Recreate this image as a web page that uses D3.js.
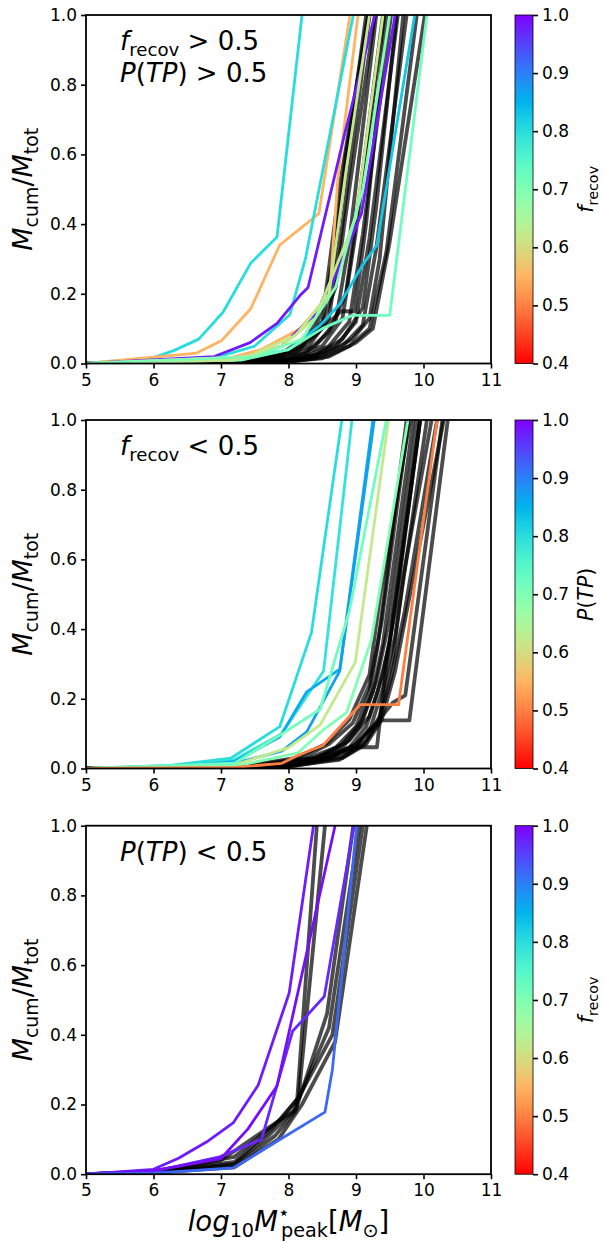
<!DOCTYPE html>
<html>
<head>
<meta charset="utf-8">
<script src="https://cdn.jsdelivr.net/npm/d3@7/dist/d3.min.js"></script>
<style>
  body { margin: 0; background: #fff; }
  text { font-family: "DejaVu Sans", sans-serif; fill: #000; }
</style>
</head>
<body>
<svg id="fig" width="605" height="1243"></svg>
<script>
// ---- data (x = log10 M*peak, y = Mcum/Mtot) ----
var xTicks = [5, 6, 7, 8, 9, 10, 11];
var yTicks = [0, 0.2, 0.4, 0.6, 0.8, 1.0];
var cbTicks = [0.4, 0.5, 0.6, 0.7, 0.8, 0.9, 1.0];

// panel 1: f_recov > 0.5 & P(TP) > 0.5
var p1Black = [
  [[5,0],[7.2,0.005],[7.8,0.02],[8.2,0.05],[8.5,0.12],[8.7,0.35],[9.15,1]],
  [[5,0],[7.3,0.004],[7.9,0.02],[8.3,0.05],[8.6,0.13],[8.8,0.4],[9.2,1]],
  [[5,0],[7.4,0.004],[8.0,0.015],[8.4,0.05],[8.7,0.12],[8.9,0.35],[9.3,1]],
  [[5,0],[7.5,0.004],[8.1,0.015],[8.5,0.05],[8.8,0.13],[9.0,0.38],[9.42,1]],
  [[5,0],[7.6,0.004],[8.2,0.015],[8.6,0.05],[8.9,0.12],[9.1,0.37],[9.52,1]],
  [[5,0],[7.7,0.004],[8.3,0.015],[8.7,0.05],[9.0,0.12],[9.2,0.36],[9.62,1]],
  [[5,0],[7.8,0.004],[8.4,0.015],[8.8,0.05],[9.1,0.11],[9.3,0.33],[9.75,1]],
  [[5,0],[7.9,0.004],[8.5,0.015],[8.9,0.05],[9.2,0.1],[9.45,0.32],[9.9,1]],
  [[5,0],[8.0,0.005],[8.6,0.02],[9.0,0.06],[9.25,0.1],[9.5,0.35],[10.02,1]],
  [[5,0],[7.6,0.01],[8.1,0.04],[8.5,0.1],[8.78,0.15],[8.98,0.15],[9.15,0.4],[9.45,1]],
  [[5,0],[7.3,0.008],[7.9,0.03],[8.3,0.08],[8.55,0.2],[8.75,0.5],[9.18,1]],
  [[5,0],[7.5,0.01],[8.1,0.03],[8.45,0.09],[8.7,0.22],[8.9,0.5],[9.28,1]],
  [[5,0],[7.7,0.008],[8.25,0.03],[8.6,0.09],[8.85,0.2],[9.05,0.48],[9.4,1]],
  [[5,0],[7.8,0.006],[8.4,0.025],[8.8,0.07],[9.1,0.16],[9.3,0.45],[9.6,1]],
  [[5,0],[8.0,0.008],[8.55,0.03],[8.95,0.07],[9.2,0.13],[9.35,0.3],[9.7,1]],
  [[5,0],[7.4,0.01],[8.0,0.035],[8.4,0.1],[8.65,0.25],[8.85,0.6],[9.2,1]]
];
var p1Color = [
  [[5,0],[6,0.017],[6.3,0.037],[6.67,0.07],[7.03,0.147],[7.44,0.288],[7.83,0.363],[8.2,1]],
  [[5,0],[6.64,0.03],[7.01,0.066],[7.44,0.157],[7.87,0.34],[8.45,0.43],[8.91,1]],
  [[5,0],[7.0,0.01],[7.6,0.04],[8.17,0.1],[8.61,0.2],[8.73,0.53],[9.03,1]],
  [[5,0],[6.8,0.01],[7.5,0.05],[8.02,0.14],[8.25,0.3],[8.96,1]],
  [[5,0],[6.9,0.02],[7.43,0.06],[7.83,0.115],[8.17,0.195],[8.29,0.218],[8.84,0.665],[9.28,1]],
  [[5,0],[7.3,0.015],[7.9,0.05],[8.5,0.16],[9.08,0.43],[9.58,1]],
  [[5,0],[7.2,0.01],[8.0,0.04],[8.47,0.11],[8.76,0.17],[9.09,0.28],[9.31,0.34],[9.87,1]],
  [[5,0],[7.3,0.01],[8.0,0.04],[8.5,0.1],[8.94,0.138],[9.5,0.138],[10.05,1]],
  [[5,0],[7.2,0.01],[7.9,0.05],[8.4,0.13],[9.0,0.42],[9.4,1]],
  [[5,0],[7.4,0.02],[8.1,0.08],[8.6,0.2],[8.85,0.55],[9.2,1]],
  [[5,0],[7.5,0.02],[8.2,0.07],[8.7,0.22],[9.1,0.5],[9.5,1]]
];
var p1Val = [0.80, 0.55, 0.55, 0.80, 0.98, 0.98, 0.83, 0.72, 0.62, 0.62, 0.70];

// panel 2: f_recov < 0.5
var p2Black = [
  [[5,0],[7.5,0.005],[8.3,0.03],[8.7,0.06],[9.0,0.12],[9.2,0.22],[9.32,0.35],[9.75,1]],
  [[5,0],[7.6,0.005],[8.4,0.03],[8.8,0.06],[9.05,0.12],[9.25,0.22],[9.4,0.36],[9.85,1]],
  [[5,0],[7.7,0.005],[8.5,0.03],[8.9,0.06],[9.15,0.12],[9.32,0.22],[9.5,0.36],[9.95,1]],
  [[5,0],[7.8,0.005],[8.6,0.03],[9.0,0.06],[9.22,0.12],[9.4,0.23],[9.58,0.38],[10.05,1]],
  [[5,0],[7.9,0.004],[8.75,0.025],[9.12,0.07],[9.33,0.13],[9.52,0.26],[9.72,0.45],[10.2,1]],
  [[5,0],[8.0,0.005],[8.8,0.03],[9.15,0.07],[9.38,0.14],[9.58,0.28],[9.8,0.5],[10.3,1]],
  [[5,0],[7.4,0.006],[8.2,0.03],[8.6,0.07],[8.95,0.13],[9.2,0.24],[9.38,0.42],[9.78,1]],
  [[5,0],[7.7,0.006],[8.5,0.035],[8.9,0.08],[9.2,0.15],[9.4,0.27],[9.58,0.45],[9.95,1]],
  [[5,0],[7.6,0.005],[8.4,0.025],[8.8,0.05],[9.0,0.061],[9.31,0.061],[9.45,0.3],[9.6,0.5],[9.95,1]],
  [[5,0],[7.8,0.005],[8.6,0.03],[9.0,0.07],[9.2,0.11],[9.36,0.138],[9.79,0.138],[10.36,1]],
  [[5,0],[7.8,0.005],[8.6,0.03],[9.0,0.07],[9.3,0.13],[9.55,0.19],[9.73,0.21],[10.28,1]],
  [[5,0],[8.0,0.006],[8.8,0.035],[9.15,0.08],[9.35,0.15],[9.55,0.32],[9.7,0.55],[10.12,1]],
  [[5,0],[7.3,0.006],[8.1,0.03],[8.55,0.07],[8.9,0.14],[9.2,0.27],[9.36,0.5],[9.8,1]],
  [[5,0],[7.6,0.005],[8.4,0.03],[8.8,0.07],[9.1,0.14],[9.3,0.25],[9.5,0.43],[9.9,1]]
];
var p2Color = [
  [[5,0],[6,0.003],[7.15,0.03],[7.87,0.12],[8.34,0.39],[8.79,1]],
  [[5,0],[6.2,0.003],[7.2,0.025],[7.9,0.1],[8.52,0.28],[8.94,1]],
  [[5,0],[6.1,0.003],[7.2,0.02],[7.87,0.09],[8.27,0.22],[8.76,0.285],[9.25,1]],
  [[5,0],[7.2,0.015],[7.9,0.05],[8.27,0.105],[8.76,0.28],[9.27,1]],
  [[5,0],[7.2,0.01],[8.0,0.06],[8.47,0.125],[8.99,0.305],[9.48,1]],
  [[5,0],[7.3,0.01],[8.14,0.045],[8.51,0.11],[8.86,0.16],[9.23,0.37],[9.77,1]],
  [[5,0],[7.2,0.015],[7.87,0.095],[8.47,0.17],[8.9,0.45],[9.45,1]],
  [[5,0],[7.2,0.003],[7.9,0.015],[8.17,0.04],[8.51,0.066],[9.06,0.183],[9.63,0.183],[10.2,1]]
];
var p2Val = [0.80, 0.79, 0.86, 0.87, 0.62, 0.70, 0.72, 0.50];

// panel 3: P(TP) < 0.5
var p3Black = [
  [[5,0],[6,0.005],[7.2,0.03],[7.7,0.11],[8.12,0.19],[8.42,1]],
  [[5,0],[6,0.006],[7.2,0.035],[7.75,0.13],[8.15,0.22],[8.54,1]],
  [[5,0],[6,0.005],[7.2,0.025],[7.8,0.11],[8.1,0.18],[8.57,0.46],[8.96,1]],
  [[5,0],[6,0.004],[7.2,0.02],[7.85,0.1],[8.2,0.2],[8.69,0.38],[9.16,1]],
  [[5,0],[6,0.006],[7.0,0.04],[7.6,0.12],[8.07,0.18],[8.6,0.42],[9.05,1]],
  [[5,0],[6,0.008],[7.2,0.05],[7.9,0.16],[8.15,0.22],[8.65,0.4],[9.1,1]]
];
var p3Color = [
  [[5,0],[6,0.014],[6.37,0.046],[6.79,0.093],[7.18,0.147],[7.55,0.255],[8.01,0.52],[8.37,1]],
  [[5,0],[6,0.008],[6.98,0.05],[7.6,0.1],[8.06,0.41],[8.53,0.51],[8.97,1]],
  [[5,0],[6,0.01],[7.0,0.045],[7.4,0.13],[7.83,0.253],[8.69,1]],
  [[5,0],[6,0.003],[7.18,0.018],[8.54,0.178],[8.65,0.3],[9.01,1]]
];
var p3Val = [0.98, 0.97, 0.99, 0.92];

// ---- layout ----
var svg = d3.select("#fig");
var left = 86, plotW = 405, plotH = 348.5;
var tops = [15, 420, 825.7];
var cbX = 515, cbW = 18;

var x = d3.scaleLinear().domain([5, 11]).range([left, left + plotW]);

// matplotlib "rainbow", reversed over 0.4..1.0
function rainbow(t) {
  var r = Math.min(1, Math.abs(2 * t - 0.5)),
      g = Math.max(0, Math.sin(Math.PI * t)),
      b = Math.max(0, Math.cos(Math.PI * t / 2));
  return d3.rgb(r * 255, g * 255, b * 255).formatHex();
}
function cmap(v) { return rainbow(1 - (v - 0.4) / 0.6); }

var defs = svg.append("defs");
var grad = defs.append("linearGradient").attr("id", "cbgrad")
    .attr("x1", 0).attr("y1", 1).attr("x2", 0).attr("y2", 0);
d3.range(0, 1.0001, 0.05).forEach(function (f) {
  grad.append("stop").attr("offset", f).attr("stop-color", cmap(0.4 + 0.6 * f));
});

// mathtext-like label: pieces of {t, it, sub, sup, dx}
function rich(parent, px, py, size, pieces, anchor, rot) {
  var t = parent.append("text").attr("x", px).attr("y", py)
      .attr("font-size", size).attr("text-anchor", anchor || "start");
  if (rot) t.attr("transform", "rotate(-90," + px + "," + py + ")");
  var cur = 0;
  pieces.forEach(function (p) {
    var shift = p.sub ? 0.22 * size : (p.sup ? -0.42 * size : 0);
    var ts = t.append("tspan").text(p.t)
        .attr("dy", shift - cur)
        .attr("font-size", (p.sub || p.sup) ? 0.7 * size : size)
        .attr("font-style", p.it ? "italic" : "normal");
    if (p.dx) ts.attr("dx", p.dx);
    cur = shift;
  });
  return t;
}

var fRecov = [{t: "f", it: 1}, {t: "recov", sub: 1}];
var pTP = [{t: "P", it: 1}, {t: "("}, {t: "TP", it: 1}, {t: ")"}];

function drawPanel(i, blackLines, colorLines, colorVals, notes, cbLabel) {
  var top = tops[i];
  var y = d3.scaleLinear().domain([0, 1]).range([top + plotH, top]);
  var g = svg.append("g");

  defs.append("clipPath").attr("id", "clip" + i).append("rect")
      .attr("x", left).attr("y", top).attr("width", plotW).attr("height", plotH);

  var line = d3.line().x(function (d) { return x(d[0]); })
                      .y(function (d) { return y(d[1]); });

  var lines = g.append("g").attr("clip-path", "url(#clip" + i + ")");
  lines.selectAll("path.k").data(blackLines).enter().append("path")
      .attr("class", "k").attr("d", line)
      .attr("fill", "none").attr("stroke", "#000").attr("stroke-opacity", 0.7)
      .attr("stroke-width", 3.8).attr("stroke-linejoin", "round");
  lines.selectAll("path.c").data(colorLines).enter().append("path")
      .attr("class", "c").attr("d", line)
      .attr("fill", "none")
      .attr("stroke", function (d, j) { return cmap(colorVals[j]); })
      .attr("stroke-width", 2.8).attr("stroke-linejoin", "round");

  // axes
  var ax = g.append("g").attr("transform", "translate(0," + (top + plotH) + ")")
      .call(d3.axisBottom(x).tickValues(xTicks).tickFormat(d3.format("d"))
            .tickSize(5).tickSizeOuter(0).tickPadding(5));
  var ay = g.append("g").attr("transform", "translate(" + left + ",0)")
      .call(d3.axisLeft(y).tickValues(yTicks).tickFormat(d3.format(".1f"))
            .tickSize(5).tickSizeOuter(0).tickPadding(4));
  [ax, ay].forEach(function (a) {
    a.select(".domain").remove();
    a.selectAll(".tick line").attr("stroke", "#000").attr("stroke-width", 1.6);
    a.selectAll(".tick text").attr("font-size", 17).attr("font-family", "DejaVu Sans");
  });
  g.append("rect").attr("x", left).attr("y", top).attr("width", plotW).attr("height", plotH)
      .attr("fill", "none").attr("stroke", "#000").attr("stroke-width", 1.8);

  // y label
  rich(g, 32, top + plotH / 2, 27,
       [{t: "M", it: 1}, {t: "cum", sub: 1}, {t: "/"}, {t: "M", it: 1}, {t: "tot", sub: 1}],
       "middle", true);

  // annotation
  notes.forEach(function (n, k) {
    rich(g, 120, top + 35 + k * 32, 26, n);
  });

  // colorbar
  var cy = d3.scaleLinear().domain([0.4, 1.0]).range([top + plotH, top]);
  g.append("rect").attr("x", cbX).attr("y", top).attr("width", cbW).attr("height", plotH)
      .attr("fill", "url(#cbgrad)").attr("stroke", "#000").attr("stroke-width", 0.8);
  var ac = g.append("g").attr("transform", "translate(" + (cbX + cbW) + ",0)")
      .call(d3.axisRight(cy).tickValues(cbTicks).tickFormat(d3.format(".1f"))
            .tickSize(5).tickSizeOuter(0).tickPadding(4));
  ac.select(".domain").remove();
  ac.selectAll(".tick line").attr("stroke", "#000").attr("stroke-width", 1.6);
  ac.selectAll(".tick text").attr("font-size", 17).attr("font-family", "DejaVu Sans");

  rich(g, 593, top + plotH / 2, 20.5, cbLabel, "middle", true);
}

drawPanel(0, p1Black, p1Color, p1Val,
  [fRecov.concat([{t: " > 0.5"}]), pTP.concat([{t: " > 0.5"}])], fRecov);
drawPanel(1, p2Black, p2Color, p2Val,
  [fRecov.concat([{t: " < 0.5"}])], pTP);
drawPanel(2, p3Black, p3Color, p3Val,
  [pTP.concat([{t: " < 0.5"}])], fRecov);

// x label
rich(svg, 288.5, 1231, 27.5,
  [{t: "log", it: 1}, {t: "10", sub: 1}, {t: "M", it: 1}, {t: "\u22c6", sup: 1},
   {t: "peak", sub: 1, dx: -9}, {t: "["}, {t: "M", it: 1}, {t: "\u2299", sub: 1}, {t: "]"}],
  "middle", false);
</script>
</body>
</html>
